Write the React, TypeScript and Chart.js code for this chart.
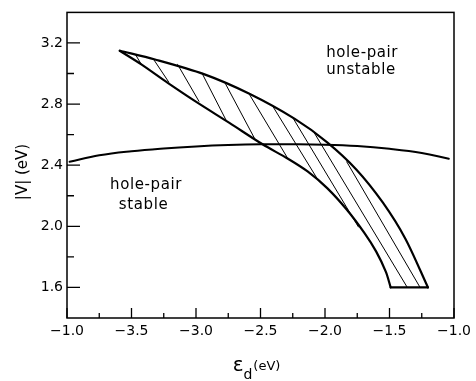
import React, { useEffect, useRef } from "react";
import { Chart, registerables } from "chart.js";

Chart.register(...registerables);

// ---- axis ticks ----
const xTickValues = [-4.0, -3.5, -3.0, -2.5, -2.0, -1.5, -1.0];
const xTickLabels = ["\u22121.0", "\u22123.5", "\u22123.0", "\u22122.5", "\u22122.0", "\u22121.5", "\u22121.0"];
const xMinorTicks = [-3.75, -3.25, -2.75, -2.25, -1.75, -1.25];
const yTickValues = [1.6, 2.0, 2.4, 2.8, 3.2];
const yTickLabels = ["1.6", "2.0", "2.4", "2.8", "3.2"];
const yMinorTicks = [1.8, 2.2, 2.6, 3.0];

// ---- stability boundary curve ----
const boundaryX = [-3.98, -3.75, -3.5, -3.25, -3.0, -2.75, -2.5, -2.25, -2.0, -1.75, -1.5, -1.25, -1.04];
const boundaryY = [2.422, 2.465, 2.492, 2.51, 2.523, 2.532, 2.537, 2.537, 2.534, 2.525, 2.507, 2.48, 2.442];

// ---- hatched region: upper edge ----
const upperX = [-3.591, -3.318, -2.939, -2.59, -2.234, -1.983, -1.756, -1.551, -1.377, -1.202];
const upperY = [3.149, 3.092, 2.996, 2.869, 2.703, 2.55, 2.371, 2.155, 1.919, 1.6];

// ---- hatched region: lower edge ----
const lowerX = [-3.591, -3.424, -3.219, -2.992, -2.741, -2.484, -2.287, -2.135, -1.983, -1.832, -1.695, -1.604, -1.528, -1.491];
const lowerY = [3.149, 3.06, 2.939, 2.811, 2.677, 2.537, 2.442, 2.359, 2.25, 2.11, 1.957, 1.836, 1.702, 1.6];

// ---- hatched region: bottom edge ----
const bottomX = [-1.491, -1.202];
const bottomY = [1.6, 1.6];

// ---- hatch lines (start -> end) ----
const hatchX1 = [-3.469, -3.333, -3.143, -2.954, -2.779, -2.59, -2.408, -2.249, -2.082, -1.832];
const hatchY1 = [3.124, 3.098, 3.06, 3.003, 2.945, 2.869, 2.79, 2.71, 2.61, 2.423];
const hatchX2 = [-3.424, -3.212, -2.977, -2.764, -2.544, -2.287, -2.059, -1.741, -1.362, -1.263];
const hatchY2 = [3.06, 2.945, 2.818, 2.69, 2.572, 2.442, 2.31, 1.996, 1.6, 1.6];

// ---- annotation texts ----
const annotationTexts = ["hole-pair", "unstable", "hole-pair", "stable"];

const annotationLayout = [
  { x: -1.991, y: 3.111 },
  { x: -1.991, y: 2.999 },
  { x: -3.666, y: 2.244 },
  { x: -3.598, y: 2.113 },
];

const FONT = "'DejaVu Sans', sans-serif";

const zip = (xs: number[], ys: number[]) => xs.map((x, i) => ({ x, y: ys[i] }));

const decorPlugin = {
  id: "decor",
  afterDraw(chart: any) {
    const { ctx, chartArea: a, scales } = chart;
    const xs = scales.x;
    const ys = scales.y;
    ctx.save();
    ctx.strokeStyle = "#000";
    ctx.fillStyle = "#000";
    // frame
    ctx.lineWidth = 1.5;
    ctx.strokeRect(a.left, a.top, a.right - a.left, a.bottom - a.top);
    // inward ticks
    ctx.lineWidth = 1.3;
    ctx.beginPath();
    xTickValues.forEach((v) => {
      const p = xs.getPixelForValue(v);
      ctx.moveTo(p, a.bottom);
      ctx.lineTo(p, a.bottom - 10);
    });
    xMinorTicks.forEach((v) => {
      const p = xs.getPixelForValue(v);
      ctx.moveTo(p, a.bottom);
      ctx.lineTo(p, a.bottom - 5);
    });
    yTickValues.forEach((v) => {
      const p = ys.getPixelForValue(v);
      ctx.moveTo(a.left, p);
      ctx.lineTo(a.left + 13, p);
    });
    yMinorTicks.forEach((v) => {
      const p = ys.getPixelForValue(v);
      ctx.moveTo(a.left, p);
      ctx.lineTo(a.left + 7, p);
    });
    ctx.stroke();

    // annotations
    ctx.font = `15px ${FONT}`;
    (ctx as any).letterSpacing = "0.6px";
    ctx.textAlign = "left";
    ctx.textBaseline = "alphabetic";
    annotationTexts.forEach((t, i) => {
      const pos = annotationLayout[i];
      ctx.fillText(t, xs.getPixelForValue(pos.x), ys.getPixelForValue(pos.y));
    });
    (ctx as any).letterSpacing = "0px";

    // x axis title: epsilon_d (eV)
    const cx = (a.left + a.right) / 2 - 4;
    const base = 370;
    ctx.font = `20px ${FONT}`;
    const w1 = ctx.measureText("\u03b5").width;
    ctx.font = `14px ${FONT}`;
    const w2 = ctx.measureText("d").width;
    ctx.font = `13px ${FONT}`;
    const w3 = ctx.measureText("(eV)").width;
    let sx = cx - (w1 + w2 + w3 + 1) / 2;
    ctx.font = `20px ${FONT}`;
    ctx.fillText("\u03b5", sx, base + 1);
    sx += w1;
    ctx.font = `14px ${FONT}`;
    ctx.fillText("d", sx, base + 9);
    sx += w2 + 1;
    ctx.font = `13px ${FONT}`;
    ctx.fillText("(eV)", sx, base);

    // y axis title
    ctx.save();
    ctx.translate(23.5, 172);
    ctx.rotate(-Math.PI / 2);
    ctx.font = `15px ${FONT}`;
    ctx.textAlign = "center";
    ctx.textBaseline = "middle";
    ctx.fillText("|V| (eV)", 0, 0);
    ctx.restore();

    ctx.restore();
  },
};

export default function App() {
  const ref = useRef<HTMLCanvasElement | null>(null);

  useEffect(() => {
    document.body.style.margin = "0";
    const canvas = ref.current!;
    const line = (data: any[], width: number, tension: number) => ({
      data,
      showLine: true,
      borderColor: "#000",
      borderWidth: width,
      pointRadius: 0,
      fill: false,
      tension,
      cubicInterpolationMode: "default",
      borderJoinStyle: "round",
      borderCapStyle: "round",
    });
    const datasets: any[] = [
      line(zip(boundaryX, boundaryY), 2, 0.4),
      line(zip(upperX, upperY), 2.2, 0.3),
      line(zip(lowerX, lowerY), 2.2, 0.3),
      line(zip(bottomX, bottomY), 2.2, 0),
    ];
    hatchX1.forEach((_, i) => {
      datasets.push(
        line(
          [
            { x: hatchX1[i], y: hatchY1[i] },
            { x: hatchX2[i], y: hatchY2[i] },
          ],
          1,
          0
        )
      );
    });

    const chart = new Chart(canvas, {
      type: "scatter",
      data: { datasets },
      options: {
        responsive: false,
        animation: false,
        devicePixelRatio: 1,
        layout: { padding: { top: 7, right: 13, left: 0, bottom: 0 } },
        plugins: { legend: { display: false }, tooltip: { enabled: false } },
        scales: {
          x: {
            type: "linear",
            min: -4,
            max: -1,
            afterBuildTicks: (s: any) => {
              s.ticks = xTickValues.map((v) => ({ value: v }));
            },
            afterFit: (s: any) => {
              s.height = 63;
            },
            grid: { display: false, drawTicks: false },
            border: { display: false },
            ticks: {
              autoSkip: false,
              maxRotation: 0,
              padding: 5,
              color: "#000",
              font: { family: FONT, size: 14 },
              callback: (_v: any, i: number) => xTickLabels[i],
            },
          },
          y: {
            type: "linear",
            min: 1.4,
            max: 3.4,
            afterBuildTicks: (s: any) => {
              s.ticks = yTickValues.map((v) => ({ value: v }));
            },
            afterFit: (s: any) => {
              s.width = 67;
            },
            grid: { display: false, drawTicks: false },
            border: { display: false },
            ticks: {
              autoSkip: false,
              padding: 4,
              color: "#000",
              font: { family: FONT, size: 14 },
              callback: (_v: any, i: number) => yTickLabels[i],
            },
          },
        },
      },
      plugins: [decorPlugin],
    });
    return () => chart.destroy();
  }, []);

  return (
    <div style={{ width: 476, height: 381, background: "#fff" }}>
      <canvas ref={ref} width={476} height={381} style={{ display: "block" }} />
    </div>
  );
}
